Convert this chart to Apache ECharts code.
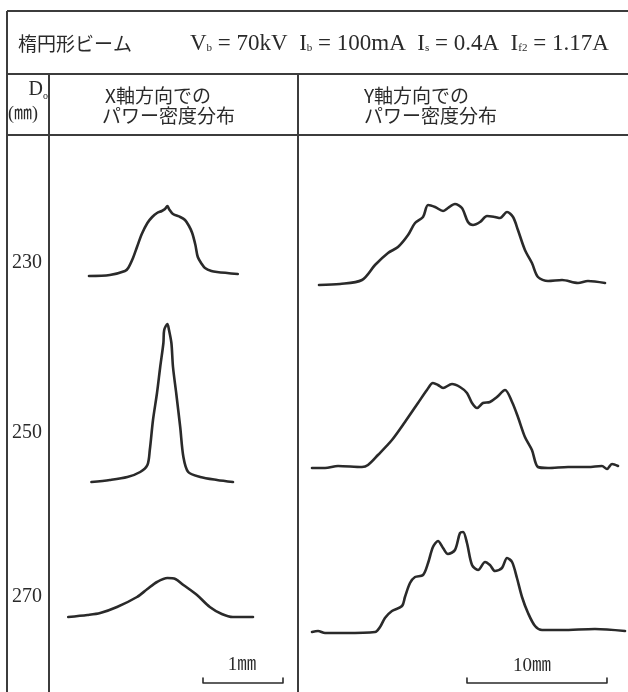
<!DOCTYPE html>
<html>
<head>
<meta charset="utf-8">
<script src="https://cdn.jsdelivr.net/npm/echarts@6/dist/echarts.min.js"></script>
<style>
  html, body { margin: 0; padding: 0; background: #fff; }
  #chart { width: 628px; height: 692px; }
</style>
</head>
<body>
<div id="chart"></div>
<script>
// D_o の値 (mm)
var rowLabels = ["230", "250", "270"];

// X軸方向: 位置(mm), 相対パワー密度
var x230 = [[0.50,-0.1],[0.76,0],[0.95,0.4],[0.99,0.7],[1.05,1.7],[1.10,2.8],[1.16,4.1],[1.23,5.2],[1.29,5.8],[1.35,6.2],[1.41,6.4],[1.45,6.6],[1.48,6.9],[1.50,6.6],[1.55,6.1],[1.64,5.8],[1.70,5.5],[1.75,4.9],[1.79,4.2],[1.83,3.0],[1.86,1.8],[1.91,1.1],[1.95,0.7],[2.03,0.4],[2.10,0.3],[2.36,0.1]];
var x250 = [[0.53,0],[0.76,0.2],[0.98,0.5],[1.14,1.0],[1.23,1.7],[1.26,3.2],[1.30,6.2],[1.35,8.9],[1.39,11.5],[1.43,13.9],[1.44,15.2],[1.48,15.8],[1.50,15.2],[1.53,13.9],[1.55,11.5],[1.59,8.9],[1.64,5.5],[1.68,2.5],[1.74,1.0],[1.89,0.5],[2.10,0.2],[2.30,0]];
var x270 = [[0.24,0],[0.48,0.2],[0.64,0.4],[0.85,1.0],[1.10,2.0],[1.23,2.8],[1.35,3.5],[1.48,3.9],[1.58,3.8],[1.68,3.2],[1.85,2.2],[2.01,1.0],[2.16,0.3],[2.30,0],[2.55,0]];

// Y軸方向: 位置(mm), 相対パワー密度
var y230 = [[1.50,-0.2],[3.00,-0.1],[4.57,0.3],[5.50,1.8],[6.43,3.0],[7.14,3.6],[7.86,4.8],[8.36,6.0],[8.93,6.6],[9.29,7.8],[9.79,7.6],[10.36,7.2],[10.71,7.5],[11.21,7.9],[11.71,7.5],[12.14,6.1],[12.50,5.8],[13.00,6.1],[13.50,6.7],[14.07,6.6],[14.43,6.5],[14.93,7.1],[15.36,6.6],[15.71,5.3],[16.21,3.3],[16.71,2.0],[17.14,0.6],[17.86,0.2],[18.86,0.3],[20.00,0],[20.71,0.2],[21.93,0]];
var y250 = [[1.00,-0.1],[1.93,-0.1],[2.86,0.1],[4.57,0],[5.00,0.2],[5.71,1.2],[6.71,2.7],[7.64,4.5],[8.57,6.4],[9.21,7.7],[9.64,8.4],[10.00,8.2],[10.36,7.9],[11.00,8.3],[11.57,8.0],[12.07,7.4],[12.43,6.4],[12.79,5.9],[13.21,6.4],[13.71,6.5],[14.21,7.0],[14.79,7.7],[15.29,6.5],[15.71,5.0],[16.21,3.0],[16.71,1.7],[17.14,0],[17.86,-0.1],[19.29,0],[20.71,0],[21.71,0.1],[22.07,-0.2],[22.43,0.3],[22.86,0.1]];
var y270 = [[1.00,0],[1.43,0.1],[1.93,-0.1],[3.36,-0.1],[5.50,0],[5.86,0.5],[6.21,1.4],[6.71,2.1],[7.43,2.6],[7.64,3.5],[8.00,4.9],[8.36,5.5],[8.93,5.7],[9.29,6.9],[9.64,8.5],[10.00,9.1],[10.36,8.4],[10.71,7.8],[11.21,8.2],[11.57,9.9],[11.79,10.0],[12.07,8.9],[12.43,6.7],[12.86,6.2],[13.36,7.0],[13.71,6.7],[14.07,6.1],[14.57,6.4],[14.93,7.4],[15.29,7.0],[15.64,5.4],[16.00,3.5],[16.43,1.9],[16.93,0.6],[17.43,0.2],[18.86,0.2],[21.21,0.3],[23.36,0.1]];

// スケールバー (mm)
var xScaleBar = [[1.925,-6.1],[1.925,-6.6],[2.925,-6.6],[2.925,-6.1]];
var yScaleBar = [[12.07,-4.6],[12.07,-5.1],[22.07,-5.1],[22.07,-4.6]];

var chart = echarts.init(document.getElementById('chart'));

var serif = '"Liberation Serif", "DejaVu Serif", "Noto Sans CJK JP", serif';
var cjk = '"Noto Sans CJK JP", sans-serif';
var ink = '#2a2a2a';
var frame = '#3c3c3c';

// 各段の基線 (px)
var xBase = [275, 482, 617];
var yBase = [283, 467, 632];

var grids = [], xAxes = [], yAxes = [], series = [];
function addPanel(left, width, xmax, base) {
    var i = grids.length;
    grids.push({ left: left, top: base - 180, width: width, height: 260, outerBoundsMode: 'none', containLabel: false });
    xAxes.push({ type: 'value', gridIndex: i, min: 0, max: xmax, show: false });
    yAxes.push({ type: 'value', gridIndex: i, min: -8, max: 18, show: false });
    return i;
}
function addLine(idx, data, w, smooth) {
    series.push({
        type: 'line', xAxisIndex: idx, yAxisIndex: idx, data: data,
        symbol: 'none', smooth: smooth, silent: true, clip: false,
        lineStyle: { color: ink, width: w, cap: 'round', join: 'round' }
    });
}
var xData = [x230, x250, x270];
var yData = [y230, y250, y270];
for (var r = 0; r < 3; ++r) {
    var gx = addPanel(49, 240, 3, xBase[r]);
    addLine(gx, xData[r], 2.6, 0.3);
    if (r == 2) addLine(gx, xScaleBar, 1.6, false);
    var gy = addPanel(298, 336, 24, yBase[r]);
    addLine(gy, yData[r], 2.6, 0.3);
    if (r == 2) addLine(gy, yScaleBar, 1.6, false);
}

function hline(y, x1, x2) {
    return { type: 'line', shape: { x1: x1, y1: y, x2: x2, y2: y }, style: { stroke: frame, lineWidth: 2 }, silent: true };
}
function vline(x, y1, y2) {
    return { type: 'line', shape: { x1: x, y1: y1, x2: x, y2: y2 }, style: { stroke: frame, lineWidth: 2 }, silent: true };
}
function txt(x, y, s, font, size, align) {
    return { type: 'text', x: x, y: y, style: { text: s, fontFamily: font, fontSize: size, fill: ink, align: align || 'left', verticalAlign: 'middle' }, silent: true };
}

var graphics = [
    hline(11, 7, 628), hline(74, 7, 628), hline(135, 7, 628),
    vline(7, 11, 692), vline(49, 74, 692), vline(298, 74, 692),
    txt(18, 44, '楕円形ビーム', cjk, 19),
    {
        type: 'text', x: 190, y: 44, silent: true,
        style: {
            text: 'V{s|b} = 70kV  I{s|b} = 100mA  I{s|s} = 0.4A  I{s|f2} = 1.17A',
            fontFamily: serif, fontSize: 23, fill: ink, verticalAlign: 'middle',
            rich: { s: { fontFamily: serif, fontSize: 11, fill: ink, padding: [9, 0, 0, 0] } }
        }
    },
    txt(43, 90, 'D', serif, 20, 'right'),
    txt(8, 114, '(㎜)', serif, 18),
    txt(105, 96, 'X軸方向での', cjk, 19),
    txt(102, 116, 'パワー密度分布', cjk, 19),
    txt(364, 96, 'Y軸方向での', cjk, 19),
    txt(364, 116, 'パワー密度分布', cjk, 19),
    txt(242, 665, '1㎜', serif, 19, 'center'),
    txt(532, 666, '10㎜', serif, 19, 'center')
];
// D_o の下付き
graphics.push({ type: 'text', x: 43, y: 96, style: { text: 'o', fontFamily: serif, fontSize: 10, fill: ink, verticalAlign: 'middle' }, silent: true });
var rowY = [263, 433, 597];
for (var k = 0; k < rowLabels.length; ++k) {
    graphics.push(txt(27, rowY[k], rowLabels[k], serif, 20, 'center'));
}

chart.setOption({
    animation: false,
    backgroundColor: '#fff',
    grid: grids,
    xAxis: xAxes,
    yAxis: yAxes,
    series: series,
    graphic: graphics
});
</script>
</body>
</html>
